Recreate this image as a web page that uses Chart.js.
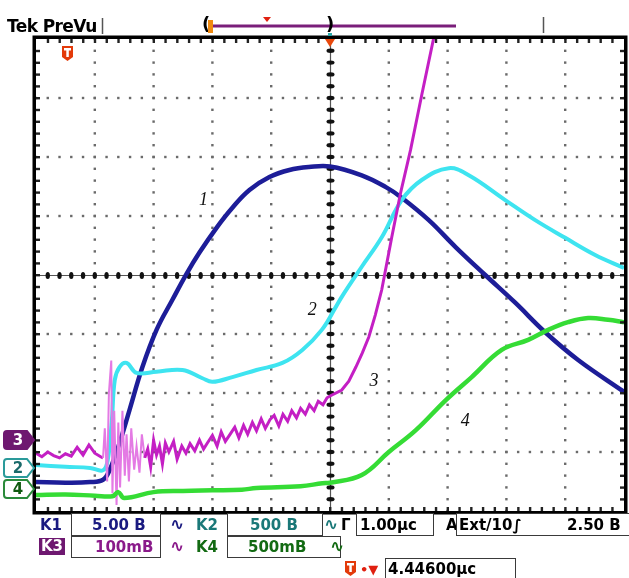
<!DOCTYPE html>
<html>
<head>
<meta charset="utf-8">
<script src="https://cdn.jsdelivr.net/npm/chart.js@4"></script>
<style>
body{margin:0;background:#fff;}
#scope{position:relative;width:629px;height:578px;overflow:hidden;font-family:'DejaVu Sans',sans-serif;font-weight:bold;}
#scope canvas{position:absolute;left:0;top:0;}
.t{position:absolute;white-space:nowrap;font-size:15px;line-height:15px;}
.box{position:absolute;border:1.5px solid #3a3a3a;background:#fff;box-sizing:border-box;}
.k1{color:#1a1a80}.k2{color:#1a7878}.k3{color:#8a1a8a}.k4{color:#126a12}
</style>
</head>
<body>
<div id="scope">
  <canvas id="scopeChart" width="629" height="578"></canvas>

  <div class="t" style="left:7px;top:18px;font-size:17px;line-height:17px;letter-spacing:-0.6px">Tek PreVu</div>

  <!-- channel readouts -->
  <div class="t k1" style="left:40px;top:518px">K1</div>
  <div class="box" style="left:71px;top:513px;width:90px;height:23px"></div>
  <div class="t k1" style="left:92px;top:518px">5.00 В</div>
  <div class="t k1" style="left:170px;top:517px;font-size:17px">∿</div>
  <div class="t k2" style="left:196px;top:518px">K2</div>
  <div class="box" style="left:227px;top:513px;width:96px;height:23px"></div>
  <div class="t k2" style="left:250px;top:518px">500 В</div>
  <div class="t k2" style="left:324px;top:517px;font-size:17px">∿</div>
  <div class="t" style="left:341px;top:518px">Г</div>
  <div class="box" style="left:356px;top:513px;width:78px;height:23px"></div>
  <div class="t" style="left:360px;top:518px">1.00μс</div>
  <div class="t" style="left:446px;top:518px">A</div>
  <div class="box" style="left:456px;top:513px;width:190px;height:23px"></div>
  <div class="t" style="left:459px;top:518px">Ext/10∫</div>
  <div class="t" style="left:567px;top:518px">2.50 В</div>

  <div class="t" style="left:40px;top:539px;background:#6e1870;color:#fff;padding:0 1px;outline:1px solid #6e1870">K3</div>
  <div class="box" style="left:71px;top:536px;width:90px;height:22px"></div>
  <div class="t k3" style="left:95px;top:540px">100mВ</div>
  <div class="t k3" style="left:170px;top:539px;font-size:17px">∿</div>
  <div class="t k4" style="left:196px;top:540px">K4</div>
  <div class="box" style="left:227px;top:536px;width:114px;height:22px"></div>
  <div class="t k4" style="left:248px;top:540px">500mВ</div>
  <div class="t k4" style="left:330px;top:539px;font-size:17px">∿</div>

  <div class="t" style="left:360px;top:562px;color:#e02010;font-size:13px">•▼</div>
  <div class="box" style="left:385px;top:558px;width:131px;height:22px"></div>
  <div class="t" style="left:388px;top:562px">4.44600μс</div>
</div>

<script>
// screen in divisions: 10 across, 8 down
const tr1X = [-5.0,-4.5,-4.08,-3.86,-3.75,-3.58,-3.41,-3.19,-2.95,-2.68,-2.44,-2.22,-1.93,-1.66,-1.37,-1.03,-0.69,-0.36,0.0,0.54,0.95,1.22,1.68,2.14,2.64,3.15,3.66,4.22,5.0];
const tr1Y = [-3.51,-3.52,-3.51,-3.47,-3.31,-2.85,-2.29,-1.56,-0.93,-0.42,0.02,0.38,0.80,1.14,1.44,1.66,1.78,1.83,1.84,1.69,1.49,1.31,0.93,0.47,0.0,-0.47,-0.97,-1.44,-1.98];

const tr2X = [-5.0,-4.5,-4.08,-3.86,-3.78,-3.71,-3.66,-3.58,-3.46,-3.29,-2.95,-2.51,-2.17,-2.0,-1.66,-1.25,-0.81,-0.47,-0.14,0.10,0.20,0.54,0.88,1.22,1.56,2.02,2.36,2.98,3.49,4.0,4.51,5.0];
const tr2Y = [-3.22,-3.25,-3.27,-3.31,-3.14,-2.46,-1.78,-1.56,-1.49,-1.66,-1.64,-1.61,-1.75,-1.81,-1.73,-1.61,-1.49,-1.27,-0.93,-0.54,-0.37,0.14,0.64,1.27,1.61,1.81,1.69,1.27,0.93,0.63,0.34,0.12];

const tr3X = [-5.0,-4.9,-4.8,-4.7,-4.6,-4.5,-4.4,-4.3,-4.2,-4.1,-4.0,-3.9,
  -3.86,-3.83,-3.79,-3.76,-3.72,-3.70,-3.67,-3.63,-3.60,-3.57,-3.53,-3.49,-3.46,-3.42,-3.38,-3.33,-3.29,-3.24,-3.20,-3.15,-3.10,-3.05,-3.0,-2.95,-2.9,-2.85,-2.8,
  -2.74,-2.66,-2.6,-2.52,-2.45,-2.38,-2.3,-2.22,-2.15,-2.08,-2.0,-1.92,-1.85,-1.78,-1.7,-1.62,-1.55,-1.47,-1.4,-1.32,-1.25,-1.17,-1.1,-1.02,-0.95,-0.87,-0.8,-0.72,-0.65,-0.57,-0.5,-0.42,-0.35,-0.27,-0.2,-0.12,-0.05,0.0,
  0.2,0.32,0.44,0.55,0.66,0.77,0.88,0.97,1.05,1.20,1.37,1.56,1.76,1.85];
const tr3Y = [-3.02,-3.08,-3.0,-3.06,-3.1,-3.03,-3.07,-2.92,-3.05,-2.88,-3.02,-3.08,
  -3.1,-2.6,-3.5,-2.0,-1.45,-3.7,-2.3,-3.9,-2.5,-3.6,-2.3,-3.4,-2.7,-3.5,-2.6,-3.3,-2.9,-3.35,-2.7,-3.1,-2.95,-3.25,-2.8,-3.05,-2.9,-3.2,-2.85,
  -3.0,-2.82,-3.12,-2.9,-3.02,-2.86,-2.98,-2.8,-2.95,-2.84,-2.72,-2.9,-2.66,-2.82,-2.7,-2.58,-2.76,-2.55,-2.7,-2.5,-2.64,-2.44,-2.6,-2.45,-2.38,-2.56,-2.36,-2.48,-2.3,-2.42,-2.26,-2.36,-2.2,-2.3,-2.14,-2.2,-2.08,-2.05,
  -1.95,-1.8,-1.56,-1.32,-1.05,-0.68,-0.25,0.22,0.64,1.39,2.12,3.05,4.0,4.4];

const tr4X = [-5.0,-4.5,-4.0,-3.7,-3.6,-3.5,-3.0,-2.5,-2.0,-1.5,-1.25,-0.5,-0.13,0.0,0.54,1.0,1.46,1.97,2.41,2.92,3.37,3.71,4.05,4.39,4.73,5.0];
const tr4Y = [-3.73,-3.72,-3.74,-3.75,-3.68,-3.78,-3.68,-3.66,-3.65,-3.64,-3.61,-3.58,-3.53,-3.52,-3.39,-3.0,-2.63,-2.12,-1.73,-1.27,-1.10,-0.93,-0.80,-0.73,-0.76,-0.80];

const traceColors = ['#1d1d98','#3ee4f0','#c41fc4','#35dc35'];
const traceLabels = ['1','2','3','4'];
const labelPos = [[-2.15,1.27],[-0.3,-0.6],[0.75,-1.8],[2.3,-2.48]];

const pts=(xs,ys)=>xs.map((v,i)=>({x:v,y:ys[i]}));

function dot(ctx,x,y,rx,ry){ctx.beginPath();ctx.ellipse(x,y,rx,ry,0,0,Math.PI*2);ctx.fill();}

function tag(ctx,yc,fill,stroke,txt,label){
  ctx.beginPath();
  ctx.moveTo(7,yc-9);ctx.lineTo(27,yc-9);ctx.lineTo(34,yc);ctx.lineTo(27,yc+9);ctx.lineTo(7,yc+9);
  ctx.quadraticCurveTo(4,yc+9,4,yc+6);ctx.lineTo(4,yc-6);ctx.quadraticCurveTo(4,yc-9,7,yc-9);
  ctx.closePath();
  ctx.fillStyle=fill;ctx.fill();
  ctx.lineWidth=2;ctx.strokeStyle=stroke;ctx.stroke();
  ctx.fillStyle=txt;ctx.font='bold 15px "DejaVu Sans"';ctx.textAlign='center';ctx.textBaseline='middle';
  ctx.fillText(label,18,yc+1);
}

function trigIcon(ctx,l,t){
  ctx.fillStyle='#e33a0a';
  ctx.beginPath();ctx.moveTo(l,t);ctx.lineTo(l+11,t);ctx.lineTo(l+11,t+11);ctx.lineTo(l+5.5,t+15);ctx.lineTo(l,t+11);ctx.closePath();ctx.fill();
  ctx.fillStyle='#fff';ctx.fillRect(l+2,t+2,7,2.5);ctx.fillRect(l+4.3,t+2,2.5,9);
}

const graticule={
  id:'graticule',
  beforeDatasetsDraw(chart){
    const {ctx,chartArea:a,scales:{x,y}}=chart;
    ctx.save();
    ctx.fillStyle='#6a6a6a';
    for(let i=-4;i<=4;i++){
      if(i===0)continue;
      const px=x.getPixelForValue(i);
      for(let j=-20;j<=20;j++)ctx.fillRect(px-1.2,y.getPixelForValue(j/5)-1.2,2.4,2.4);
    }
    for(let k=-3;k<=3;k++){
      if(k===0)continue;
      const py=y.getPixelForValue(k);
      for(let j=-25;j<=25;j++)ctx.fillRect(x.getPixelForValue(j/5)-1.2,py-1.2,2.4,2.4);
    }
    const cx=x.getPixelForValue(0),cy=y.getPixelForValue(0);
    ctx.strokeStyle='#555';ctx.lineWidth=1.2;
    ctx.beginPath();
    ctx.moveTo(a.left,cy+0.5);ctx.lineTo(a.right,cy+0.5);
    ctx.moveTo(cx+0.5,a.top);ctx.lineTo(cx+0.5,a.bottom);
    ctx.stroke();
    ctx.fillStyle='#111';
    for(let j=-24;j<=24;j++)dot(ctx,x.getPixelForValue(j/5),cy+0.5,2.2,3.6);
    for(let j=-19;j<=19;j++)dot(ctx,cx+0.5,y.getPixelForValue(j/5),4,2.2);
    ctx.restore();
  },
  afterDatasetsDraw(chart){
    const {ctx,chartArea:a,scales:{x,y}}=chart;
    ctx.save();
    // ticks on the inside of the frame
    ctx.fillStyle='#222';
    for(let j=-24;j<=24;j++){
      const px=x.getPixelForValue(j/5);
      ctx.fillRect(px-1,a.top,2.4,4);ctx.fillRect(px-1,a.bottom-4,2.4,4);
    }
    for(let j=-19;j<=19;j++){
      const py=y.getPixelForValue(j/5);
      ctx.fillRect(a.left,py-1,4,2.4);ctx.fillRect(a.right-4,py-1,4,2.4);
    }
    ctx.lineWidth=3.5;ctx.strokeStyle='#000';
    ctx.strokeRect(a.left-1.75,a.top-1.75,a.right-a.left+3.5,a.bottom-a.top+3.5);

    // trigger position marker
    const cx=x.getPixelForValue(0);
    ctx.fillStyle='#e8480c';
    ctx.beginPath();ctx.moveTo(cx-5,a.top);ctx.lineTo(cx+5,a.top);ctx.lineTo(cx,a.top+8);ctx.closePath();ctx.fill();

    trigIcon(ctx,62,46);
    trigIcon(ctx,345,561);

    // record bar at the top
    ctx.strokeStyle='#555';ctx.lineWidth=1.5;
    ctx.beginPath();ctx.moveTo(102.5,18);ctx.lineTo(102.5,34);ctx.moveTo(543.5,17);ctx.lineTo(543.5,33);ctx.stroke();
    ctx.strokeStyle='#7a1e7a';ctx.lineWidth=3;
    ctx.beginPath();ctx.moveTo(210,26);ctx.lineTo(456,26);ctx.stroke();
    ctx.fillStyle='#000';ctx.font='bold 18px "DejaVu Sans"';ctx.textAlign='center';ctx.textBaseline='middle';
    ctx.fillText('(',206,25);ctx.fillText(')',330,25);
    ctx.fillStyle='#f08a10';ctx.fillRect(208,20,5,13);
    ctx.fillStyle='#e02010';
    ctx.beginPath();ctx.moveTo(263,17);ctx.lineTo(271,17);ctx.lineTo(267,22);ctx.closePath();ctx.fill();
    ctx.fillStyle='#2aa8a8';ctx.fillRect(328,33,4,3);

    // channel reference tags
    tag(ctx,440,'#6e1870','#6e1870','#fff','3');
    tag(ctx,468,'#fff','#2a9a9a','#1a6a6a','2');
    tag(ctx,489,'#fff','#2a8a3a','#105a10','4');

    // trace numbers
    ctx.fillStyle='#111';ctx.font='italic 18px "Liberation Serif"';
    labelPos.forEach((p,i)=>ctx.fillText(traceLabels[i],x.getPixelForValue(p[0]),y.getPixelForValue(p[1])));
    ctx.restore();
  }
};

const sets=[pts(tr1X,tr1Y),pts(tr2X,tr2Y),pts(tr3X,tr3Y),pts(tr4X,tr4Y)];
const widths=[4.5,4,3,4.5];

new Chart(document.getElementById('scopeChart'),{
  type:'line',
  data:{datasets:sets.map((d,i)=>({
    label:'K'+(i+1),data:d,borderColor:traceColors[i],borderWidth:widths[i],
    pointRadius:0,fill:false,
    tension:i===2?0:0.4,
    // the burst right after the trigger looks thinner and paler
    segment:i===2?{borderColor:c=>c.p0.parsed.x>-3.9&&c.p1.parsed.x<-3.1?'#e47ae4':undefined,
                   borderWidth:c=>c.p0.parsed.x>-3.9&&c.p1.parsed.x<-3.1?2:undefined}:undefined,
    clip:0
  })).reverse()},
  options:{
    responsive:false,animation:false,
    layout:{padding:{left:36,top:39,right:5,bottom:67}},
    plugins:{legend:{display:false},tooltip:{enabled:false}},
    scales:{
      x:{type:'linear',min:-5,max:5,display:false},
      y:{type:'linear',min:-4,max:4,display:false}
    }
  },
  plugins:[graticule]
});
</script>
</body>
</html>
